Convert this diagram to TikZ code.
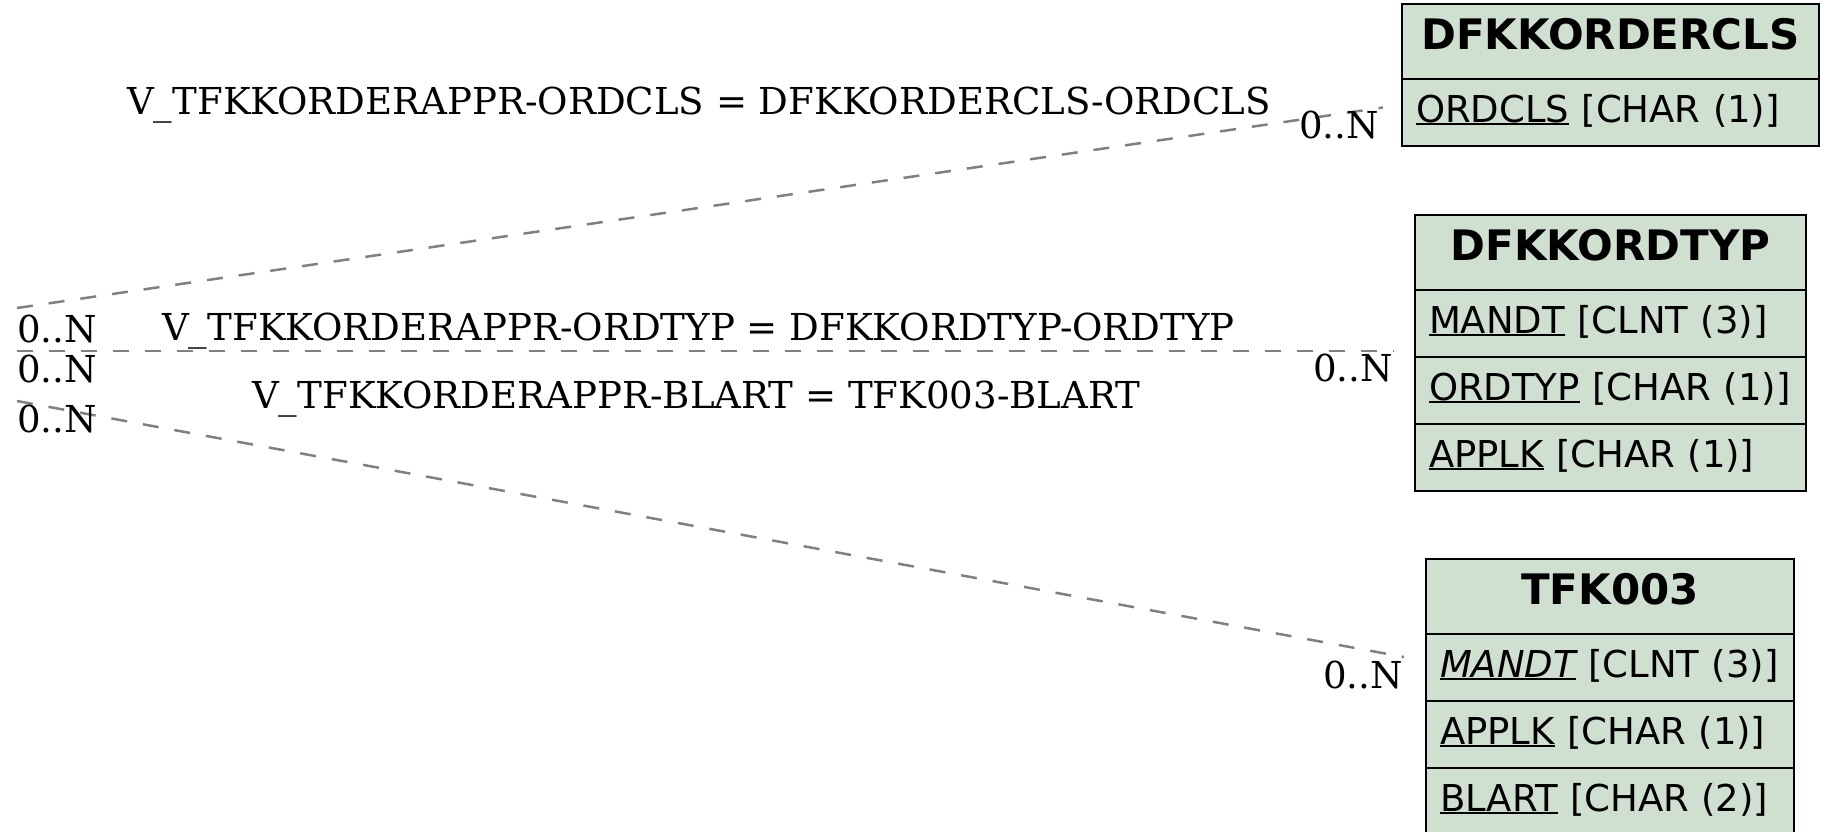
\documentclass[tikz,border=0pt]{standalone}
\usepackage{fontspec}
\setmainfont{DejaVu Serif}
\setsansfont{DejaVu Sans}
\definecolor{tblfill}{RGB}{208,224,208}
\definecolor{relgray}{RGB}{128,128,128}
\newcommand\keyul[1]{\setbox0\hbox{#1}\rlap{\rule[-3pt]{\wd0}{2pt}}\box0\relax}
\begin{document}
\begin{tikzpicture}[x=1pt,y=-1pt,
  tblhead/.style={draw=black, line width=2.6pt, fill=tblfill, anchor=north west,
    outer sep=0pt, inner xsep=0pt, inner ysep=0pt, text height=45pt, text depth=30pt,
    font=\sffamily\bfseries\fontsize{42}{50}\selectfont, align=center},
  tblrow/.style={draw=black, line width=2.6pt, fill=tblfill, anchor=north west,
    outer sep=0pt, inner xsep=14pt, inner ysep=0pt, text height=43pt, text depth=24pt,
    font=\sffamily\fontsize{37}{44}\selectfont, align=left},
  rel/.style={draw=relgray, line width=2.5pt, dash pattern=on 16pt off 16pt},
  lbl/.style={inner sep=0pt, anchor=base west, font=\fontsize{37.1}{44}\selectfont}]
\useasboundingbox (0,0) rectangle (1822,831);

% DFKKORDERCLS
\node[tblhead, minimum width=417pt] (cls) at (1402,4) {DFKKORDERCLS};
\node[tblrow, text width=389pt] (clsordcls) at (cls.south west) {\keyul{ORDCLS} [CHAR (1)]};

% DFKKORDTYP
\node[tblhead, minimum width=391pt] (typ) at (1415,215) {DFKKORDTYP};
\node[tblrow, text width=363pt] (typmandt) at (typ.south west) {\keyul{MANDT} [CLNT (3)]};
\node[tblrow, text width=363pt] (typordtyp) at (typmandt.south west) {\keyul{ORDTYP} [CHAR (1)]};
\node[tblrow, text width=363pt] (typapplk) at (typordtyp.south west) {\keyul{APPLK} [CHAR (1)]};

% TFK003
\node[tblhead, minimum width=368pt] (tfk) at (1426,559) {TFK003};
\node[tblrow, text width=340pt] (tfkmandt) at (tfk.south west) {\keyul{\itshape MANDT} [CLNT (3)]};
\node[tblrow, text width=340pt] (tfkapplk) at (tfkmandt.south west) {\keyul{APPLK} [CHAR (1)]};
\node[tblrow, text width=340pt] (tfkblart) at (tfkapplk.south west) {\keyul{BLART} [CHAR (2)]};

% connector ends
\coordinate (l1) at (17,308);
\coordinate (r1) at ([shift={(-19,-5)}]clsordcls.west);
\coordinate (l2) at (17,351);
\coordinate (r2) at (1394,351);
\coordinate (l3) at (17,401);
\coordinate (r3) at (1404,657);

\draw[rel] (l1) -- (r1);
\draw[rel] (l2) -- (r2);
\draw[rel] (l3) -- (r3);

% relation labels
\node[lbl] (lab1) at (127,114) {V\_TFKKORDERAPPR-ORDCLS = DFKKORDERCLS-ORDCLS};
\node[lbl] (lab2) at (162,340) {V\_TFKKORDERAPPR-ORDTYP = DFKKORDTYP-ORDTYP};
\node[lbl] (lab3) at (252,408) {V\_TFKKORDERAPPR-BLART = TFK003-BLART};

% cardinalities
\node[lbl] (c1l) at (17,342) {0..N};
\node[lbl] (c2l) at (17,382) {0..N};
\node[lbl] (c3l) at (17,432) {0..N};
\node[lbl] (c1r) at (1299,138) {0..N};
\node[lbl] (c2r) at (1313,381) {0..N};
\node[lbl] (c3r) at (1323,688) {0..N};
\end{tikzpicture}
\end{document}
